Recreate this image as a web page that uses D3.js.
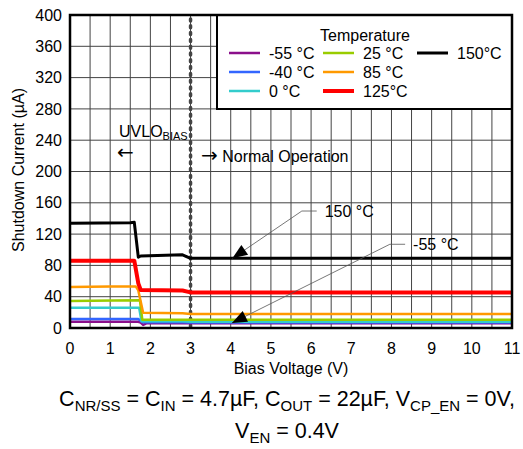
<!DOCTYPE html>
<html>
<head>
<meta charset="utf-8">
<script src="https://cdn.jsdelivr.net/npm/d3@7"></script>
<style>
  body { margin: 0; background: #fff; }
  svg text { font-family: "Liberation Sans", Arial, sans-serif; fill: #000; }
</style>
</head>
<body>
<svg id="chart" width="523" height="449"></svg>
<script>
// series labels / colours, in legend order
const temps = ["-55 °C", "-40 °C", "0 °C", "25 °C", "85 °C", "125°C", "150°C"]
const colors = ["#8b0f8b", "#3366ff", "#33cccc", "#99cc00", "#ff9900", "#ff0000", "#000000"]
const widths = [2.5, 2.5, 2.5, 2.5, 2.5, 4, 3]

// [bias V, shutdown µA]
const m55 = [[0, 8], [1.7, 8], [1.76, 7], [1.82, 4], [1.9, 6], [2.8, 6.5], [3, 6], [11, 6]]
const m40 = [[0, 11.5], [1.7, 11.5], [1.8, 7.5], [2.8, 7.5], [3, 7], [11, 7]]
const c0 = [[0, 26], [1.72, 26], [1.78, 8.5], [2.8, 8.5], [3, 8], [11, 8]]
const c25 = [[0, 34.5], [1.1, 35], [1.74, 35.5], [1.8, 10.5], [2.8, 10.5], [3, 10.5], [11, 10.5]]
const c85 = [[0, 52.5], [1.0, 53], [1.64, 53], [1.7, 48], [1.82, 19.5], [2.8, 19], [3, 18], [11, 18]]
const c125 = [[0, 86], [1.6, 86], [1.7, 57], [1.76, 48.5], [2.8, 48], [3, 45.5], [11, 45.5]]
const c150 = [[0, 134], [1.5, 134.5], [1.6, 135], [1.7, 90.5], [1.76, 92], [2.8, 93.5], [3, 89], [11, 89]]
const series = [m55, m40, c0, c25, c85, c125, c150]

const xTicks = d3.range(0, 12, 1)
const yTicks = d3.range(0, 440, 40)
const xGrid = d3.range(0, 11.5, 0.5)

// annotations: tip on the curve, knee, end of leader, label
const notes = [
  { label: "150 °C", tip: [4.04, 89], knee: [5.77, 149.5], end: [6.14, 149.5] },
  { label: "-55 °C", tip: [4.03, 6.4], knee: [7.96, 107], end: [8.34, 107] }
]

const svg = d3.select("#chart")
const pL = 70, pR = 512, pT = 15, pB = 328

const x = d3.scaleLinear().domain([0, 11]).range([pL, pR])
const y = d3.scaleLinear().domain([0, 400]).range([pB, pT])

// grid
svg.append("g").selectAll("line").data(xGrid).enter().append("line")
  .attr("x1", d => x(d)).attr("x2", d => x(d))
  .attr("y1", pT).attr("y2", pB)
  .attr("stroke", "#444").attr("stroke-width", 1)

svg.append("g").selectAll("line").data(yTicks).enter().append("line")
  .attr("x1", pL).attr("x2", pR)
  .attr("y1", d => y(d)).attr("y2", d => y(d))
  .attr("stroke", "#444").attr("stroke-width", 1)

// UVLO divider
svg.append("line")
  .attr("x1", x(3)).attr("x2", x(3)).attr("y1", pT + 4).attr("y2", pB)
  .attr("stroke", "#444").attr("stroke-width", 3.5)
  .attr("stroke-linecap", "round").attr("stroke-dasharray", "2 4.8")

// curves
const line = d3.line().x(d => x(d[0])).y(d => y(d[1]))
svg.append("g").selectAll("path").data(series).enter().append("path")
  .attr("d", line)
  .attr("fill", "none")
  .attr("stroke", (d, i) => colors[i])
  .attr("stroke-width", (d, i) => widths[i])
  .attr("stroke-linejoin", "round")

// annotation leaders + arrowheads
const arrowLen = 15, arrowHalf = 6
notes.forEach(n => {
  const pts = [n.end, n.knee, n.tip].map(p => [x(p[0]), y(p[1])])
  svg.append("path")
    .attr("d", d3.line()(pts))
    .attr("fill", "none").attr("stroke", "#555").attr("stroke-width", 0.8)
  const [tx, ty] = pts[2], [kx, ky] = pts[1]
  const dx = kx - tx, dy = ky - ty, L = Math.hypot(dx, dy)
  const ux = dx / L, uy = dy / L
  const bx = tx + ux * arrowLen, by = ty + uy * arrowLen
  svg.append("path")
    .attr("d", `M${tx},${ty}L${bx - uy * arrowHalf},${by + ux * arrowHalf}L${bx + uy * arrowHalf},${by - ux * arrowHalf}Z`)
    .attr("fill", "#000")
  svg.append("text")
    .attr("x", x(n.end[0]) + 8).attr("y", y(n.end[1]))
    .attr("dy", "0.35em").attr("font-size", 16)
    .text(n.label)
})

// region labels
const uv = svg.append("text").attr("x", 119).attr("y", 137).attr("font-size", 16)
uv.append("tspan").text("UVLO")
uv.append("tspan").attr("font-size", 11).attr("dy", 3).text("BIAS")
svg.append("text").attr("x", 117).attr("y", 152).attr("dy", "0.35em")
  .attr("font-size", 20).style("font-family", "DejaVu Sans").text("←")
const no = svg.append("text").attr("x", 201).attr("y", 156).attr("dy", "0.35em").attr("font-size", 16)
no.append("tspan").style("font-family", "DejaVu Sans").attr("font-size", 20).text("→")
no.append("tspan").text(" Normal Operation")

// legend
const lg = svg.append("g")
lg.append("rect").attr("x", 217).attr("y", pT).attr("width", pR - 217).attr("height", 94)
  .attr("fill", "#fff").attr("stroke", "#000").attr("stroke-width", 2)
lg.append("text").attr("x", 365).attr("y", 35).attr("dy", "0.35em")
  .attr("text-anchor", "middle").attr("font-size", 16).text("Temperature")
const colX = [229, 323, 417]
temps.forEach((t, i) => {
  const col = Math.floor(i / 3), row = i % 3
  const ly = 53 + row * 19
  lg.append("line").attr("x1", colX[col]).attr("x2", colX[col] + 31)
    .attr("y1", ly).attr("y2", ly)
    .attr("stroke", colors[i]).attr("stroke-width", widths[i])
  lg.append("text").attr("x", colX[col] + 40).attr("y", ly).attr("dy", "0.35em")
    .attr("font-size", 16).text(t)
})

// frame
svg.append("rect").attr("x", pL).attr("y", pT).attr("width", pR - pL).attr("height", pB - pT)
  .attr("fill", "none").attr("stroke", "#000").attr("stroke-width", 2.5)

// tick labels
svg.append("g").selectAll("text").data(xTicks).enter().append("text")
  .attr("x", d => x(d)).attr("y", 348).attr("dy", "0.35em")
  .attr("text-anchor", "middle").attr("font-size", 16).text(d => d)
svg.append("g").selectAll("text").data(yTicks).enter().append("text")
  .attr("x", 62).attr("y", d => y(d)).attr("dy", "0.35em")
  .attr("text-anchor", "end").attr("font-size", 16).text(d => d)

// axis titles
svg.append("text").attr("x", 291).attr("y", 368).attr("dy", "0.35em")
  .attr("text-anchor", "middle").attr("font-size", 16).text("Bias Voltage (V)")
svg.append("text").attr("transform", "translate(18,170) rotate(-90)").attr("dy", "0.35em")
  .attr("text-anchor", "middle").attr("font-size", 16).text("Shutdown Current (µA)")

// caption with subscripts
const cap1 = [["C", ""], ["NR/SS", "s"], [" = C", ""], ["IN", "s"], [" = 4.7µF, C", ""], ["OUT", "s"],
  [" = 22µF, V", ""], ["CP_EN", "s"], [" = 0V,", ""]]
const cap2 = [["V", ""], ["EN", "s"], [" = 0.4V", ""]]
const caption = (parts, cy) => {
  const t = svg.append("text").attr("x", 287).attr("y", cy).attr("text-anchor", "middle").attr("font-size", 21.5)
  let sub = false
  parts.forEach(([s, k]) => {
    const ts = t.append("tspan").text(s)
    if (k === "s") { ts.attr("font-size", 15).attr("dy", sub ? 0 : 5); sub = true }
    else { if (sub) ts.attr("dy", -5); sub = false }
  })
}
caption(cap1, 406)
caption(cap2, 438)
</script>
</body>
</html>
